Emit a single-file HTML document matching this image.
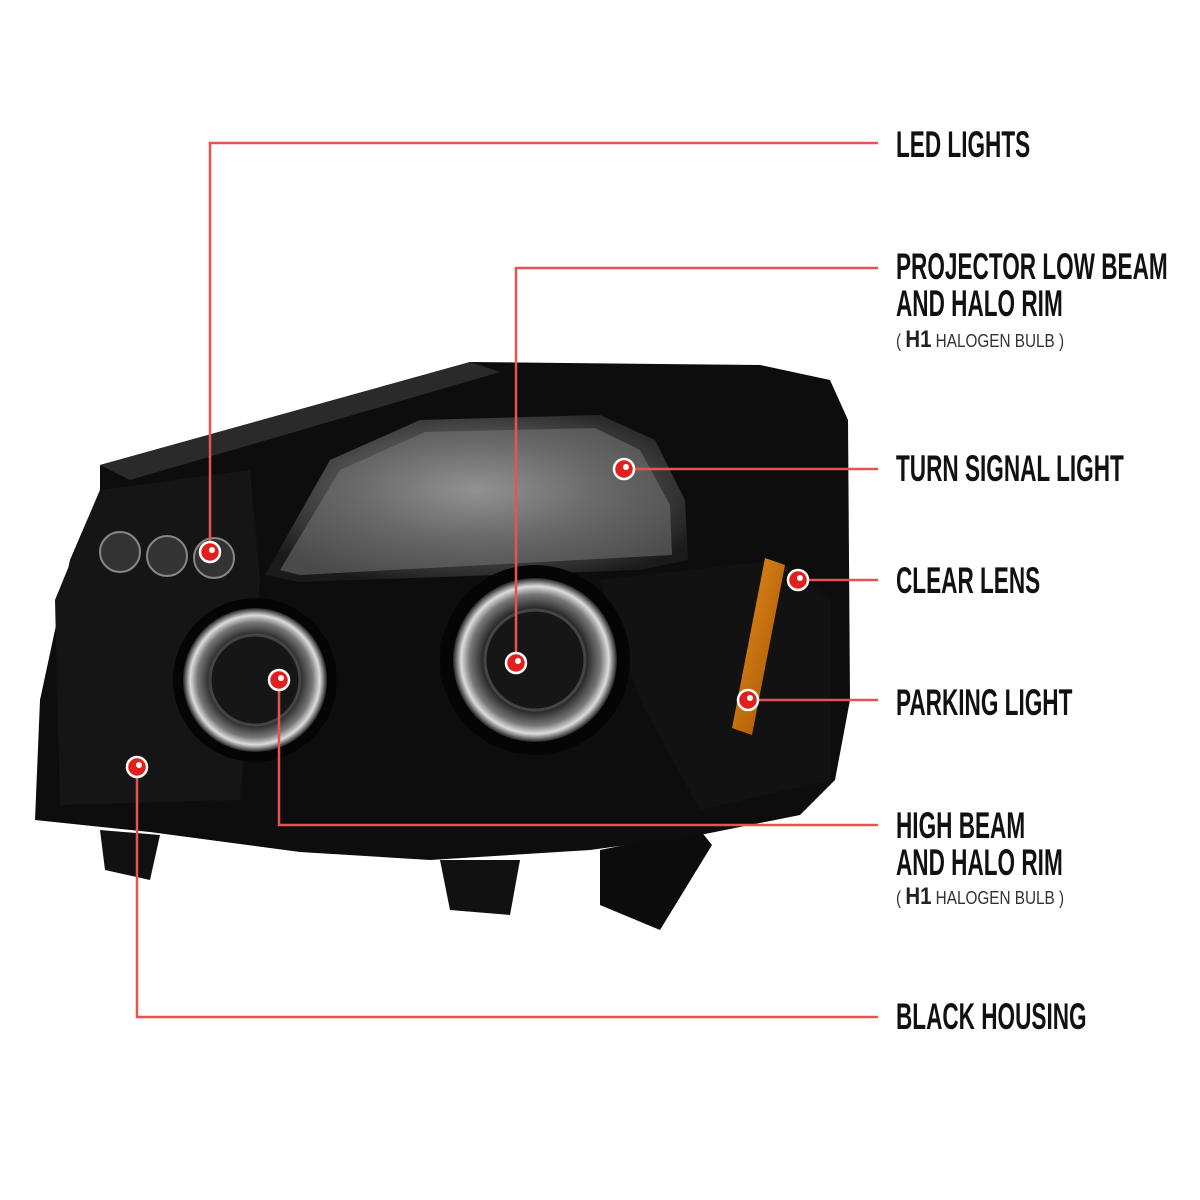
<!DOCTYPE html>
<html><head><meta charset="utf-8"><style>
html,body{margin:0;padding:0;background:#fff;}
.wrap{position:relative;width:1200px;height:1200px;overflow:hidden;background:#fff;}
.t{position:absolute;left:896px;font-family:"Liberation Sans Narrow","Liberation Sans",sans-serif;color:#111;font-size:37px;font-weight:bold;line-height:37px;white-space:nowrap;transform:scaleX(0.61);transform-origin:left top;}
.s{font-size:18px;color:#333;font-weight:normal;transform:scaleX(0.85);line-height:30px;}
.s b{font-size:24px;font-weight:bold;color:#222;}
</style></head><body><div class="wrap">
<svg width="1200" height="1200" style="position:absolute;left:0;top:0">
<defs>
<radialGradient id="lens" cx="0.5" cy="0.45" r="0.6"><stop offset="0" stop-color="#aaa"/><stop offset="0.5" stop-color="#555"/><stop offset="1" stop-color="#1a1a1a"/></radialGradient>
<radialGradient id="proj" cx="0.5" cy="0.5" r="0.5"><stop offset="0" stop-color="#111"/><stop offset="0.6" stop-color="#1a1a1a"/><stop offset="0.8" stop-color="#777"/><stop offset="0.9" stop-color="#ddd"/><stop offset="1" stop-color="#222"/></radialGradient>
<linearGradient id="amb" x1="0" y1="0" x2="1" y2="1"><stop offset="0" stop-color="#e89020"/><stop offset="1" stop-color="#a05000"/></linearGradient>
</defs>
<polygon points="100,830 160,835 150,880 105,870" fill="#111"/>
<polygon points="440,860 520,860 510,915 450,910" fill="#111"/>
<polygon points="600,850 700,830 712,845 660,930 600,905" fill="#0c0c0c"/>
<polygon points="100,465 470,362 760,365 830,380 848,420 850,700 835,780 800,815 700,835 590,850 430,860 300,852 150,832 35,820 40,700 70,560 100,490" fill="#0d0d0d"/>
<polygon points="100,465 470,362 500,372 130,480" fill="#2a2a2a"/>
<polygon points="55,600 100,490 250,470 260,580 240,800 60,805" fill="#151515"/>
<polygon points="600,580 780,560 830,600 830,780 700,810 640,700" fill="#121212"/>
<polygon points="265,575 330,460 420,420 600,415 655,440 685,500 688,560 640,570 300,582" fill="url(#lens)"/>
<polygon points="280,570 340,470 425,432 595,428 640,450 670,505 672,555 300,575" fill="#7a7a7a" opacity="0.5"/>
<circle cx="120" cy="552" r="20" fill="#333" stroke="#888" stroke-width="2"/>
<circle cx="167" cy="556" r="20" fill="#333" stroke="#888" stroke-width="2"/>
<circle cx="214" cy="558" r="20" fill="#333" stroke="#888" stroke-width="2"/>
<circle cx="255" cy="680" r="82" fill="#050505"/>
<circle cx="255" cy="680" r="72" fill="url(#proj)"/>
<circle cx="255" cy="680" r="45" fill="#161616" stroke="#444" stroke-width="3"/>
<circle cx="535" cy="660" r="95" fill="#050505"/>
<circle cx="535" cy="660" r="82" fill="url(#proj)"/>
<circle cx="535" cy="660" r="50" fill="#161616" stroke="#444" stroke-width="3"/>
<polygon points="765,558 785,565 752,735 732,728" fill="url(#amb)"/>
<g stroke="#e35550" stroke-width="2.5" fill="none">
<polyline points="210,552 210,143 878,143"/>
<polyline points="516,663 516,268 878,268"/>
<polyline points="624,469 878,469"/>
<polyline points="798,580 878,580"/>
<polyline points="748,700 878,700"/>
<polyline points="279,680 279,825 878,825"/>
<polyline points="137,767 137,1017 878,1017"/>
</g>
<g fill="#e0201c" stroke="#fff" stroke-width="2.5">
<circle cx="210" cy="552" r="10"/><circle cx="516" cy="663" r="10"/><circle cx="624" cy="469" r="10"/>
<circle cx="798" cy="580" r="10"/><circle cx="748" cy="700" r="10"/><circle cx="279" cy="680" r="10"/><circle cx="137" cy="767" r="10"/>
</g>
<g fill="#fff">
<circle cx="212" cy="550" r="3"/><circle cx="518" cy="661" r="3"/><circle cx="626" cy="467" r="3"/>
<circle cx="800" cy="578" r="3"/><circle cx="750" cy="698" r="3"/><circle cx="281" cy="678" r="3"/><circle cx="139" cy="765" r="3"/>
</g>
</svg>
<div class="t" style="top:126px">LED LIGHTS</div>
<div class="t" style="top:248px">PROJECTOR LOW BEAM<br>AND HALO RIM</div>
<div class="t s" style="top:325px">( <b>H1</b> HALOGEN BULB )</div>
<div class="t" style="top:450px">TURN SIGNAL LIGHT</div>
<div class="t" style="top:562px">CLEAR LENS</div>
<div class="t" style="top:684px">PARKING LIGHT</div>
<div class="t" style="top:807px">HIGH BEAM<br>AND HALO RIM</div>
<div class="t s" style="top:882px">( <b>H1</b> HALOGEN BULB )</div>
<div class="t" style="top:998px">BLACK HOUSING</div>
</div></body></html>
